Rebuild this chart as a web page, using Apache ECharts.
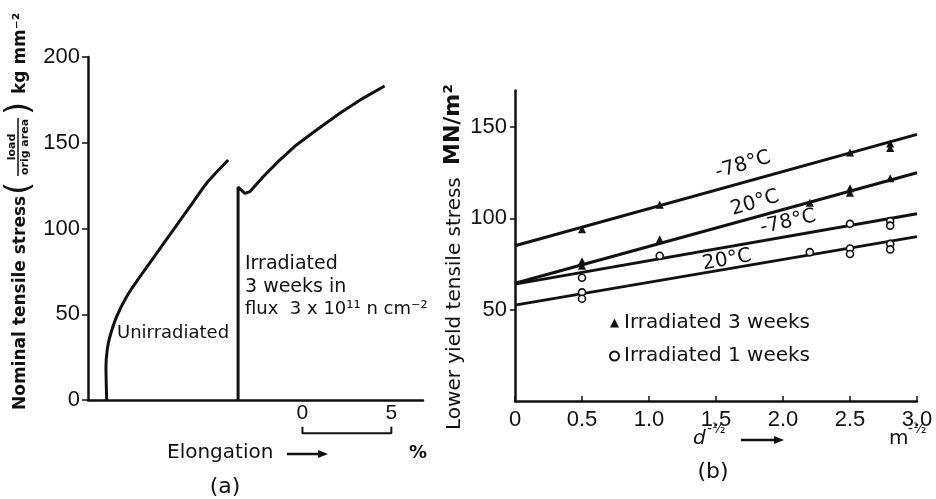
<!DOCTYPE html>
<html><head><meta charset="utf-8">
<script src="https://cdn.jsdelivr.net/npm/echarts@6/dist/echarts.min.js"></script>
<style>html,body{margin:0;padding:0;background:#fff}#c{width:936px;height:499px}</style>
</head><body><div id="c"></div>
<script>
// ---------- Panel (a): stress vs elongation ----------
const unirradiated = [[-11.01,0],[-11.05,19.4],[-10.98,29.2],[-10.83,36.9],[-10.45,48.6],[-9.89,60.2],[-9.14,71.9],[-8.20,85.5],[-7.27,99.1],[-6.33,112.7],[-5.39,126.4],[-4.18,139.9]];
const irradiated = [[-3.62,0],[-3.62,124.2],[-3.24,120.5],[-2.96,121.5],[-2.21,130.2],[-1.28,139.9],[-0.34,148.7],[0.79,157.4],[2.10,167.2],[3.40,175.9],[4.62,183.1]];
const stressTicks = [0,50,100,150,200];
const scaleBarTicks = [0,5];

// ---------- Panel (b): lower yield stress vs d^-1/2 ----------
const dTicks = [0,0.5,1.0,1.5,2.0,2.5,3.0];
const yieldTicks = [50,100,150];
const fitX = [0,3.0];
const fit78_3w = [85,146];
const fit20_3w = [64.5,125];
const fit78_1w = [64,102.5];
const fit20_1w = [52.5,90];
const pts78_3w = [[0.5,94],[1.08,107.5],[2.5,136],[2.8,141],[2.8,138.5]];
const pts20_3w = [[0.5,76.5],[0.5,74],[1.08,88.5],[2.2,108.5],[2.5,116.5],[2.5,114],[2.8,122]];
const pts78_1w = [[0.5,67.5],[1.08,79.5],[2.5,97],[2.8,98.5],[2.8,96]];
const pts20_1w = [[0.5,59.5],[0.5,56],[2.2,81.5],[2.5,83.5],[2.5,80.5],[2.8,86],[2.8,83]];

const INK = '#111';
const NUM = 'Liberation Sans';
const TXT = 'DejaVu Sans';

function fitLine(ys){ return { type:'line', xAxisIndex:1, yAxisIndex:1, data: fitX.map((x,i)=>[x,ys[i]]), symbol:'none', lineStyle:{color:INK,width:3}, clip:false, silent:true, z:3 }; }

// scale bar layout (y positions below axis, in stress units)
const barY = -19.4, barTickY = -15.6, barLabelY = -7.6;

const chart = echarts.init(document.getElementById('c'), null, {renderer:'canvas'});
chart.setOption({
  backgroundColor:'#fff',
  animation:false,
  grid:[
    {left:88, top:57, width:335, height:343},
    {left:515, top:90.5, width:402, height:310.5}
  ],
  xAxis:[
    {gridIndex:0, type:'value', min:-12.06, max:6.78,
     axisLine:{onZero:false, lineStyle:{color:INK,width:2.5}}, axisTick:{show:false}, axisLabel:{show:false}, splitLine:{show:false}},
    {gridIndex:1, type:'value', min:0, max:3, interval:0.5,
     axisLine:{onZero:false, lineStyle:{color:INK,width:2.5}},
     axisTick:{show:true, inside:true, length:5, lineStyle:{color:INK,width:1.5}, customValues:dTicks},
     axisLabel:{color:INK, fontSize:22, fontFamily:NUM, margin:8, customValues:dTicks,
       formatter:v=> v===0 ? '0' : v.toFixed(1)},
     splitLine:{show:false}}
  ],
  yAxis:[
    {gridIndex:0, type:'value', min:0, max:200, interval:50,
     axisLine:{onZero:false, lineStyle:{color:INK,width:2.5}},
     axisTick:{show:true, length:6, lineStyle:{color:INK,width:1.5}, customValues:stressTicks},
     axisLabel:{color:INK, fontSize:22, fontFamily:NUM, margin:8, customValues:stressTicks},
     splitLine:{show:false}},
    {gridIndex:1, type:'value', min:0, max:170,
     axisLine:{onZero:false, lineStyle:{color:INK,width:2.5}},
     axisTick:{show:true, length:5, lineStyle:{color:INK,width:1.5}, customValues:yieldTicks},
     axisLabel:{color:INK, fontSize:22, fontFamily:NUM, margin:8, customValues:yieldTicks},
     splitLine:{show:false}}
  ],
  legend:{
    left:604, top:308, orient:'vertical', itemGap:13, itemWidth:9, itemHeight:9,
    textStyle:{color:INK, fontSize:20, fontFamily:TXT},
    data:[{name:'Irradiated 3 weeks', icon:'triangle'},{name:'Irradiated 1 weeks', icon:'circle'}]
  },
  series:[
    {type:'line', xAxisIndex:0, yAxisIndex:0, data:unirradiated, symbol:'none', smooth:0.2, lineStyle:{color:INK,width:3}, clip:false, silent:true},
    {type:'line', xAxisIndex:0, yAxisIndex:0, data:irradiated, symbol:'none', lineStyle:{color:INK,width:3}, clip:false, silent:true},
    {type:'line', xAxisIndex:0, yAxisIndex:0, symbol:'none', clip:false, silent:true, lineStyle:{color:INK,width:2},
     data:[[scaleBarTicks[0],barTickY],[scaleBarTicks[0],barY],[scaleBarTicks[1],barY],[scaleBarTicks[1],barTickY]]},
    {type:'scatter', xAxisIndex:0, yAxisIndex:0, symbolSize:0, clip:false, silent:true,
     itemStyle:{opacity:1},
     data:scaleBarTicks.map(v=>[v,barLabelY]),
     label:{show:true, position:'inside', formatter:p=>String(p.value[0]), color:INK, fontSize:21, fontFamily:NUM}},
    fitLine(fit78_3w), fitLine(fit20_3w), fitLine(fit78_1w), fitLine(fit20_1w),
    {name:'Irradiated 3 weeks', type:'scatter', xAxisIndex:1, yAxisIndex:1, symbol:'triangle', symbolSize:8,
     itemStyle:{color:INK, opacity:1}, data:pts78_3w.concat(pts20_3w), z:4},
    {name:'Irradiated 1 weeks', type:'scatter', xAxisIndex:1, yAxisIndex:1, symbol:'circle', symbolSize:7,
     itemStyle:{color:'#fff', borderColor:INK, borderWidth:1.6, opacity:1}, data:pts78_1w.concat(pts20_1w), z:4}
  ],
  graphic:[
    // left y title
    {type:'group', x:21, y:410, rotation:Math.PI/2, children:[
      {type:'text', x:0, y:0, style:{text:'Nominal tensile stress', fill:INK, font:'bold 17px "DejaVu Sans"', verticalAlign:'middle', align:'left'}},
      {type:'text', x:215, y:-1, style:{text:'(', fill:INK, font:'34px "DejaVu Sans"', verticalAlign:'middle', align:'left'}},
      {type:'text', x:263, y:-9, style:{text:'load', fill:INK, font:'bold 11px "DejaVu Sans"', verticalAlign:'middle', align:'center'}},
      {type:'line', shape:{x1:234, y1:-3, x2:292, y2:-3}, style:{stroke:INK, lineWidth:1.5}},
      {type:'text', x:263, y:4, style:{text:'orig area', fill:INK, font:'bold 11px "DejaVu Sans"', verticalAlign:'middle', align:'center'}},
      {type:'text', x:295, y:-1, style:{text:')', fill:INK, font:'34px "DejaVu Sans"', verticalAlign:'middle', align:'left'}},
      {type:'text', x:316, y:0, style:{text:'kg mm\u207B\u00B2', fill:INK, font:'bold 17px "DejaVu Sans"', verticalAlign:'middle', align:'left'}}
    ]},
    // right y title
    {type:'group', x:455, y:430, rotation:Math.PI/2, children:[
      {type:'text', x:0, y:0, style:{text:'Lower yield tensile stress', fill:INK, font:'20px "DejaVu Sans"', verticalAlign:'middle', align:'left'}},
      {type:'text', x:265, y:-2, style:{text:'MN/m\u00B2', fill:INK, font:'bold 22px "DejaVu Sans"', verticalAlign:'middle', align:'left'}}
    ]},
    // panel (a) annotations
    {type:'text', x:117, y:333, style:{text:'Unirradiated', fill:INK, font:'18px "DejaVu Sans"', verticalAlign:'middle'}},
    {type:'text', x:245, y:264, style:{text:'Irradiated', fill:INK, font:'19px "DejaVu Sans"', verticalAlign:'middle'}},
    {type:'text', x:245, y:287, style:{text:'3 weeks in', fill:INK, font:'19px "DejaVu Sans"', verticalAlign:'middle'}},
    {type:'text', x:245, y:309, style:{text:'flux  3 x 10\u00B9\u00B9 n cm\u207B\u00B2', fill:INK, font:'18px "DejaVu Sans"', verticalAlign:'middle'}},
    {type:'text', x:167, y:453, style:{text:'Elongation', fill:INK, font:'20px "DejaVu Sans"', verticalAlign:'middle'}},
    {type:'line', shape:{x1:287, y1:454, x2:320, y2:454}, style:{stroke:INK, lineWidth:2.5}},
    {type:'polygon', shape:{points:[[328,454],[318,450],[318,458]]}, style:{fill:INK}},
    {type:'text', x:409, y:453, style:{text:'%', fill:INK, font:'bold 18px "DejaVu Sans"', verticalAlign:'middle'}},
    {type:'text', x:225, y:487, style:{text:'(a)', fill:INK, font:'22px "DejaVu Sans"', verticalAlign:'middle', align:'center'}},
    // panel (b) line labels
    {type:'text', x:743, y:165, rotation:0.29, style:{text:'-78\u00B0C', fill:INK, font:'20px "DejaVu Sans"', verticalAlign:'middle', align:'center'}},
    {type:'text', x:755, y:203, rotation:0.29, style:{text:'20\u00B0C', fill:INK, font:'20px "DejaVu Sans"', verticalAlign:'middle', align:'center'}},
    {type:'text', x:788, y:222, rotation:0.22, style:{text:'-78\u00B0C', fill:INK, font:'20px "DejaVu Sans"', verticalAlign:'middle', align:'center'}},
    {type:'text', x:727, y:260, rotation:0.18, style:{text:'20\u00B0C', fill:INK, font:'20px "DejaVu Sans"', verticalAlign:'middle', align:'center'}},
    // x title (b)
    {type:'text', x:693, y:439, style:{text:'d', fill:INK, font:'italic 20px "DejaVu Sans"', verticalAlign:'middle'}},
    {type:'text', x:707, y:429, style:{text:'-\u00BD', fill:INK, font:'14px "DejaVu Sans"', verticalAlign:'middle'}},
    {type:'line', shape:{x1:741, y1:440, x2:776, y2:440}, style:{stroke:INK, lineWidth:2.5}},
    {type:'polygon', shape:{points:[[784,440],[774,436],[774,444]]}, style:{fill:INK}},
    {type:'text', x:889, y:439, style:{text:'m', fill:INK, font:'20px "DejaVu Sans"', verticalAlign:'middle'}},
    {type:'text', x:908, y:429, style:{text:'-\u00BD', fill:INK, font:'14px "DejaVu Sans"', verticalAlign:'middle'}},
    {type:'text', x:713, y:472, style:{text:'(b)', fill:INK, font:'22px "DejaVu Sans"', verticalAlign:'middle', align:'center'}}
  ]
});
</script></body></html>
